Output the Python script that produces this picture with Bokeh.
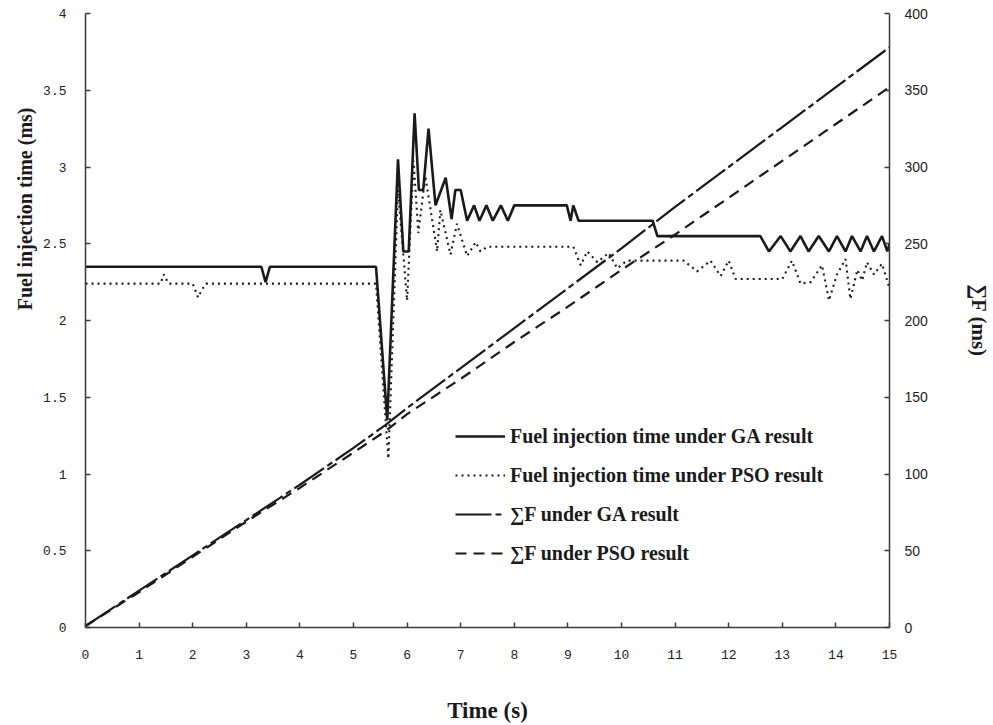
from bokeh.plotting import figure
from bokeh.models import (Range1d, LinearAxis, Legend, LegendItem, FixedTicker,
                          CustomJSTickFormatter, Title)
from bokeh.embed import file_html
from bokeh.resources import INLINE

# ---- data ----
ga_t = [0, 3.28, 3.36, 3.44, 5.42, 5.63, 5.83, 5.93, 6.03, 6.14, 6.22, 6.30, 6.40, 6.53,
        6.72, 6.83, 6.90, 7.00, 7.12, 7.25, 7.35, 7.48, 7.60, 7.75, 7.88, 8.00, 8.98, 9.05,
        9.10, 9.20, 10.50, 10.58, 10.67, 12.59, 12.75, 12.97, 13.15, 13.34, 13.49, 13.68,
        13.87, 14.02, 14.18, 14.30, 14.46, 14.58, 14.71, 14.86, 14.96, 15.0]
ga_v = [2.35, 2.35, 2.25, 2.35, 2.35, 1.35, 3.05, 2.45, 2.45, 3.35, 2.85, 2.85, 3.25, 2.75,
        2.93, 2.66, 2.85, 2.85, 2.65, 2.75, 2.65, 2.75, 2.65, 2.75, 2.65, 2.75, 2.75, 2.65,
        2.75, 2.65, 2.65, 2.65, 2.55, 2.55, 2.45, 2.55, 2.45, 2.55, 2.45, 2.55,
        2.45, 2.55, 2.45, 2.55, 2.45, 2.55, 2.45, 2.55, 2.45, 2.50]

pso_t = [0, 1.40, 1.46, 1.55, 2.00, 2.10, 2.17, 2.25, 5.42, 5.65, 5.83, 6.00, 6.12, 6.21,
         6.34, 6.56, 6.62, 6.81, 6.93, 7.12, 7.28, 7.37, 7.49, 9.10, 9.24, 9.36, 9.55, 9.76,
         9.92, 10.10, 11.16, 11.41, 11.66, 11.85, 12.00, 12.13, 13.00, 13.18, 13.34, 13.53,
         13.74, 13.87, 14.02, 14.18, 14.27, 14.40, 14.49, 14.58, 14.71, 14.86, 15.0]
pso_v = [2.24, 2.24, 2.30, 2.24, 2.24, 2.15, 2.20, 2.24, 2.24, 1.10, 2.85, 2.13, 3.04, 2.57,
         2.94, 2.45, 2.72, 2.43, 2.63, 2.42, 2.51, 2.45, 2.48, 2.48, 2.36, 2.45, 2.38, 2.44,
         2.34, 2.39, 2.39, 2.32, 2.39, 2.29, 2.39, 2.27, 2.27, 2.39, 2.24, 2.25,
         2.36, 2.13, 2.30, 2.40, 2.14, 2.33, 2.26, 2.38, 2.30, 2.37, 2.21]

cum_t = [0, 1, 2, 3, 4, 5, 5.6, 6, 7, 8, 9, 10, 11, 12, 13, 14, 15]
cum_ga = [1, 24, 47, 70, 93, 117, 132, 143, 169, 195, 221, 247, 274, 300, 326, 352, 378]
cum_pso = [1, 23, 46, 69, 91, 114, 128, 139, 162, 186, 209, 233, 256, 280, 304, 328, 352]

x_ticks = list(range(0, 16))
y_ticks = [0, 0.5, 1, 1.5, 2, 2.5, 3, 3.5, 4]
y2_ticks = [0, 50, 100, 150, 200, 250, 300, 350, 400]

labels = ["Fuel injection time under GA result",
          "Fuel injection time under PSO result",
          "\u2211F under GA result",
          "\u2211F under PSO result"]
y_title = "Fuel injection time (ms)"

INK = "#1a1a1a"
AX = "#3a3a3a"

p = figure(width=993, height=725, output_backend="svg", toolbar_location=None,
           x_range=Range1d(0, 15), y_range=Range1d(0, 4),
           min_border_left=85, min_border_right=103, min_border_top=13, min_border_bottom=97)
p.extra_y_ranges = {"sum": Range1d(0, 400)}
p.xgrid.visible = False
p.ygrid.visible = False
p.outline_line_color = None
p.background_fill_color = "white"
p.border_fill_color = "white"

r_ga = p.line(ga_t, ga_v, line_color=INK, line_width=2.6)
r_pso = p.line(pso_t, pso_v, line_color=INK, line_width=2.1, line_dash="2 4")
r_cga = p.line(cum_t, cum_ga, y_range_name="sum", line_color=INK, line_width=2.2,
               line_dash="36 4 6 4")
r_cpso = p.line(cum_t, cum_pso, y_range_name="sum", line_color=INK, line_width=2.2,
                line_dash="11 7")

def style_axis(ax, font, size, standoff):
    ax.axis_line_color = AX
    ax.axis_line_width = 1.5
    ax.major_tick_line_color = AX
    ax.major_tick_line_width = 1.5
    ax.major_tick_in = 5
    ax.major_tick_out = 0
    ax.minor_tick_in = 0
    ax.minor_tick_out = 0
    ax.major_label_text_font = font
    ax.major_label_text_font_size = size
    ax.major_label_text_color = "#222222"
    ax.major_label_standoff = standoff

xa = p.xaxis[0]
xa.ticker = FixedTicker(ticks=x_ticks)
style_axis(xa, "Liberation Mono", "13px", 22)
xa.axis_label = "Time (s)"
xa.axis_label_text_font = "Liberation Serif"
xa.axis_label_text_font_style = "bold"
xa.axis_label_text_font_size = "23px"
xa.axis_label_text_color = INK
xa.axis_label_standoff = 36

ya = p.yaxis[0]
ya.ticker = FixedTicker(ticks=y_ticks)
ya.formatter = CustomJSTickFormatter(code="return tick.toString();")
style_axis(ya, "Liberation Mono", "13px", 19)

y2 = LinearAxis(y_range_name="sum")
y2.ticker = FixedTicker(ticks=y2_ticks)
style_axis(y2, "Liberation Sans", "14px", 15)
y2.axis_label = "\u2211F (ms)"
y2.axis_label_text_font = "Liberation Serif"
y2.axis_label_text_font_style = "bold"
y2.axis_label_text_font_size = "21px"
y2.axis_label_text_color = INK
y2.axis_label_standoff = 36
p.add_layout(y2, "right")

# left title, placed above the frame centre as in the reference
ytitle = Title(text=y_title, align="right", offset=94, standoff=10,
               text_font="Liberation Serif", text_font_style="bold",
               text_font_size="20px", text_color=INK)
p.add_layout(ytitle, "left")

legend = Legend(items=[LegendItem(label=labels[0], renderers=[r_ga]),
                       LegendItem(label=labels[1], renderers=[r_pso]),
                       LegendItem(label=labels[2], renderers=[r_cga]),
                       LegendItem(label=labels[3], renderers=[r_cpso])],
                location=(370, 61), padding=0, margin=0, spacing=13,
                glyph_width=50, glyph_height=26, label_height=26, label_standoff=5,
                border_line_color=None, background_fill_alpha=0,
                label_text_font="Liberation Serif", label_text_font_style="bold",
                label_text_font_size="20px", label_text_color=INK)
p.add_layout(legend)

open("out.html", "w").write(file_html(p, INLINE))
